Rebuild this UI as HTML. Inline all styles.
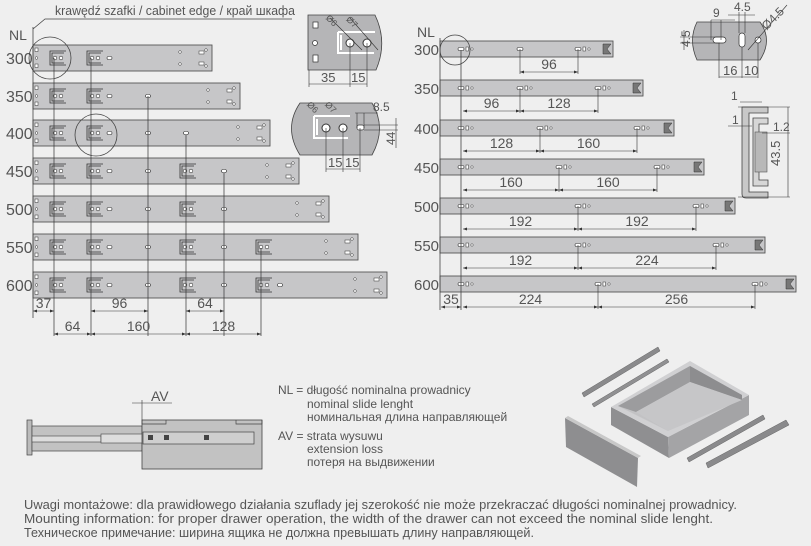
<!DOCTYPE html>
<html><head><meta charset="utf-8"><style>
html,body{margin:0;padding:0;background:#efefef;}
svg{display:block;}
text{font-family:"Liberation Sans Narrow","Liberation Sans",sans-serif;fill:#555;}
</style></head><body>
<svg id="s" width="811" height="546" viewBox="0 0 811 546" xmlns="http://www.w3.org/2000/svg">
<rect width="811" height="546" fill="#efefef"/>
<g id="g"></g>
<text x="55" y="15" font-size="13" textLength="240" lengthAdjust="spacingAndGlyphs">krawędź szafki / cabinet edge / край шкафа</text>
<polyline points="292,19 45,19 33,29" fill="none" stroke="#444" stroke-width="0.8"/>
<text x="9" y="40" font-size="14" fill="#555">NL</text>
<line x1="33" y1="27" x2="33" y2="318" stroke="#444" stroke-width="0.8"/>
<text x="417" y="37" font-size="14">NL</text>
<line x1="440" y1="38" x2="440" y2="310" stroke="#444" stroke-width="0.8"/>
<line x1="461" y1="50" x2="461" y2="310" stroke="#444" stroke-width="0.8"/>
<circle cx="455" cy="50" r="15" fill="none" stroke="#444" stroke-width="0.8"/>
<circle cx="50" cy="58" r="21" fill="none" stroke="#444" stroke-width="0.8"/>
<circle cx="96" cy="135" r="21" fill="none" stroke="#444" stroke-width="0.8"/>

<path d="M308,15 H375 Q388,42 376,70 H308 Z" fill="#b5b5b7" stroke="#444" stroke-width="0.8"/>
<rect x="313" y="22" width="5" height="6" fill="#fff" stroke="#333" stroke-width="0.7"/>
<circle cx="315" cy="43" r="2.5" fill="#fff" stroke="#333" stroke-width="0.7"/>
<rect x="313" y="55" width="5" height="7" fill="#fff" stroke="#333" stroke-width="0.7"/>
<path d="M338,32 H375 M338,32 V53 H374 M341,35 V50" fill="none" stroke="#fff" stroke-width="2"/>
<circle cx="350" cy="43" r="4" fill="#fff" stroke="#333"/><circle cx="367" cy="43" r="4" fill="#fff" stroke="#333"/>
<line x1="330" y1="18" x2="362" y2="50" stroke="#333" stroke-width="0.6"/><line x1="350" y1="18" x2="378" y2="50" stroke="#333" stroke-width="0.6"/>
<text x="325" y="25" font-size="9" transform="rotate(45 333 22)">Ø6</text>
<text x="346" y="25" font-size="9" transform="rotate(45 352 22)">Ø7</text>
<line x1="350" y1="43" x2="350" y2="87" stroke="#333" stroke-width="0.6"/><line x1="367" y1="43" x2="367" y2="87" stroke="#333" stroke-width="0.6"/>
<line x1="309" y1="70" x2="309" y2="87" stroke="#333" stroke-width="0.6"/>
<line x1="309" y1="84" x2="367" y2="84" stroke="#333" stroke-width="0.6"/>
<text x="321" y="82" font-size="13">35</text><text x="351" y="82" font-size="13">15</text>
<path d="M300,103 H372 Q387,128 372,155 H300 Q283,128 300,103 Z" fill="#b5b5b7" stroke="#444" stroke-width="0.8"/>
<path d="M314,116 H350 M314,116 V138 H348 M317,119 V135" fill="none" stroke="#fff" stroke-width="2"/>
<circle cx="326" cy="128" r="4" fill="#fff" stroke="#333"/><circle cx="343" cy="128" r="4" fill="#fff" stroke="#333"/>
<rect x="357" y="125" width="7" height="5" rx="2" fill="#fff" stroke="#333" stroke-width="0.7"/>
<text x="306" y="110" font-size="9" transform="rotate(45 312 108)">Ø6</text>
<text x="324" y="110" font-size="9" transform="rotate(45 330 108)">Ø7</text>
<line x1="326" y1="128" x2="326" y2="172" stroke="#333" stroke-width="0.6"/><line x1="343" y1="128" x2="343" y2="172" stroke="#333" stroke-width="0.6"/><line x1="360" y1="128" x2="360" y2="172" stroke="#333" stroke-width="0.6"/>
<line x1="326" y1="169" x2="360" y2="169" stroke="#333" stroke-width="0.6"/>
<text x="328" y="167" font-size="13">15</text><text x="345" y="167" font-size="13">15</text>
<line x1="355" y1="113" x2="378" y2="113" stroke="#333" stroke-width="0.6"/><line x1="357" y1="113" x2="357" y2="128" stroke="#333" stroke-width="0.6"/><line x1="364" y1="113" x2="364" y2="128" stroke="#333" stroke-width="0.6"/>
<text x="373" y="111" font-size="12">8.5</text>
<line x1="364" y1="125" x2="398" y2="125" stroke="#333" stroke-width="0.6"/><line x1="364" y1="130" x2="398" y2="130" stroke="#333" stroke-width="0.6"/>
<line x1="396" y1="118" x2="396" y2="148" stroke="#333" stroke-width="0.6"/>
<text x="395" y="145" font-size="12" transform="rotate(-90 395 145)">44</text>

<path d="M697,22 H760 Q773,40 760,60 H697 Q688,40 697,22 Z" fill="#b5b5b7" stroke="#444" stroke-width="0.8"/>
<rect x="713" y="37" width="13" height="6" rx="3" fill="#fff" stroke="#333" stroke-width="0.7"/>
<rect x="739" y="33" width="6" height="14" rx="3" fill="#fff" stroke="#333" stroke-width="0.7"/>
<circle cx="758" cy="40" r="3" fill="#fff" stroke="#333" stroke-width="0.7"/>
<line x1="680" y1="37" x2="720" y2="37" stroke="#333" stroke-width="0.6"/><line x1="680" y1="43" x2="720" y2="43" stroke="#333" stroke-width="0.6"/>
<line x1="684" y1="30" x2="684" y2="50" stroke="#333" stroke-width="0.6"/>
<text x="690" y="47" font-size="12" transform="rotate(-90 690 47)">4.5</text>
<line x1="711" y1="20" x2="735" y2="20" stroke="#333" stroke-width="0.6"/><line x1="711" y1="20" x2="711" y2="40" stroke="#333" stroke-width="0.6"/><line x1="721" y1="20" x2="721" y2="40" stroke="#333" stroke-width="0.6"/>
<text x="713" y="17" font-size="12">9</text>
<line x1="728" y1="15" x2="755" y2="15" stroke="#333" stroke-width="0.6"/><line x1="739" y1="12" x2="739" y2="33" stroke="#333" stroke-width="0.6"/><line x1="745" y1="12" x2="745" y2="33" stroke="#333" stroke-width="0.6"/>
<text x="734" y="11" font-size="12">4.5</text>
<line x1="748" y1="50" x2="787" y2="5" stroke="#333" stroke-width="0.6"/>
<text x="760" y="25" font-size="12" transform="rotate(-45 770 20)">Ø4.5</text>
<line x1="719" y1="43" x2="719" y2="78" stroke="#333" stroke-width="0.6"/><line x1="742" y1="47" x2="742" y2="78" stroke="#333" stroke-width="0.6"/><line x1="758" y1="43" x2="758" y2="78" stroke="#333" stroke-width="0.6"/>
<line x1="719" y1="77" x2="758" y2="77" stroke="#333" stroke-width="0.6"/>
<text x="723" y="75" font-size="13">16</text><text x="744" y="75" font-size="13">10</text>
<path d="M742,107 V194 Q742,198 746,198 H768 V192 H749 V113 H768 V107 Z" fill="#c8c8c8" stroke="#444" stroke-width="0.8"/>
<path d="M753,118 H768 V124 H759 V180 H768 V186 H753 Z" fill="#d6d6d6" stroke="#444" stroke-width="0.8"/>
<rect x="755" y="132" width="12" height="40" fill="#b8b8b8" stroke="#555" stroke-width="0.6"/>
<line x1="738" y1="107" x2="790" y2="107" stroke="#333" stroke-width="0.6"/><line x1="738" y1="197" x2="790" y2="197" stroke="#333" stroke-width="0.6"/>
<line x1="788" y1="107" x2="788" y2="197" stroke="#333" stroke-width="0.6"/>
<text x="780" y="166" font-size="13" transform="rotate(-90 780 166)">43.5</text>
<line x1="740" y1="102" x2="762" y2="102" stroke="#333" stroke-width="0.6"/><text x="731" y="100" font-size="12">1</text>
<line x1="728" y1="126" x2="752" y2="126" stroke="#333" stroke-width="0.6"/><text x="732" y="124" font-size="12">1</text>
<line x1="762" y1="133" x2="790" y2="133" stroke="#333" stroke-width="0.6"/><text x="773" y="131" font-size="12">1.2</text>

<rect x="27" y="420" width="5" height="35" fill="#bbb" stroke="#444" stroke-width="0.7"/>
<rect x="32" y="426" width="110" height="25" fill="#c2c2c2" stroke="#444" stroke-width="0.7"/>
<rect x="32" y="436" width="69" height="6" fill="#ddd" stroke="#444" stroke-width="0.6"/>
<rect x="101" y="434" width="42" height="9" fill="#ddd" stroke="#444" stroke-width="0.6"/>
<rect x="142" y="420" width="120" height="49" fill="#c2c2c2" stroke="#444" stroke-width="0.8"/>
<path d="M142,420 V424 H166 V420 M236,420 V424 H262 V420" fill="none" stroke="#444" stroke-width="0.7"/>
<rect x="143" y="432" width="111" height="12" fill="#cfcfcf" stroke="#444" stroke-width="0.7"/>
<rect x="148" y="435" width="5" height="5" fill="#444"/><rect x="164" y="435" width="5" height="5" fill="#444"/><rect x="204" y="435" width="5" height="5" fill="#444"/>
<line x1="142" y1="400" x2="142" y2="420" stroke="#333" stroke-width="0.6"/>
<line x1="132" y1="403" x2="172" y2="403" stroke="#333" stroke-width="0.6"/>
<text x="151" y="401" font-size="14">AV</text>

<g font-size="12">
<text x="278" y="394">NL = długość nominalna prowadnicy</text>
<text x="307" y="408">nominal slide lenght</text>
<text x="307" y="421">номинальная длина направляющей</text>
<text x="278" y="440">AV = strata wysuwu</text>
<text x="307" y="453">extension loss</text>
<text x="307" y="466">потеря на выдвижении</text>
</g>
<!-- drawer -->
<polygon points="565,418 638,458 637,487 566,447" fill="#8e8e90"/>
<polygon points="565,418 568,416 641,456 638,458" fill="#c8c8c8"/>
<polygon points="611,407 668,437 669,458 611,425" fill="#8f8f91"/>
<polygon points="668,437 749,395 749,415 669,458" fill="#a4a4a6"/>
<polygon points="611,407 690,361 749,395 668,437" fill="#d0d0d2"/>
<polygon points="618,406 690,366 742,395 668,431" fill="#c2c2c4"/>
<polygon points="618,406 690,366 690,382 636,412" fill="#9c9c9e"/>
<polygon points="690,366 742,395 742,400 690,382" fill="#8d8d8f"/>
<polygon points="636,412 690,382 742,400 668,431" fill="#c6c6c8"/>
<polygon points="582,393 658,347 660,351 584,397" fill="#8a8a8c" stroke="#666" stroke-width="0.5"/>
<polygon points="592,404 667,359 669,362 594,407" fill="#909092" stroke="#666" stroke-width="0.5"/>
<polygon points="687,458 763,415 765,419 689,462" fill="#8a8a8c" stroke="#666" stroke-width="0.5"/>
<polygon points="706,463 786,420 789,425 708,468" fill="#8a8a8c" stroke="#666" stroke-width="0.5"/>
<g font-size="12.5">
<text x="24" y="509" textLength="713" lengthAdjust="spacingAndGlyphs">Uwagi montażowe: dla prawidłowego działania szuflady jej szerokość nie może przekraczać długości nominalnej prowadnicy.</text>
<text x="24" y="523" textLength="689" lengthAdjust="spacingAndGlyphs">Mounting information: for proper drawer operation, the width of the drawer can not exceed the nominal slide lenght.</text>
<text x="24" y="537" textLength="510" lengthAdjust="spacingAndGlyphs">Техническое примечание: ширина ящика не должна превышать длину направляющей.</text>
</g>
</svg>
<script>
var NS="http://www.w3.org/2000/svg",g=document.getElementById('g');
function el(t,a,txt){var e=document.createElementNS(NS,t);for(var k in a)e.setAttribute(k,a[k]);if(txt)e.textContent=txt;g.appendChild(e);return e;}
function ln(x1,y1,x2,y2,w){el('line',{x1:x1,y1:y1,x2:x2,y2:y2,stroke:'#333','stroke-width':w||0.7});}
function dim(x1,x2,y,t){ln(x1,y,x2,y,0.6);el('polygon',{points:(x1)+','+y+' '+(x1+4)+','+(y-1.5)+' '+(x1+4)+','+(y+1.5),fill:'#333'});el('polygon',{points:(x2)+','+y+' '+(x2-4)+','+(y-1.5)+' '+(x2-4)+','+(y+1.5),fill:'#333'});el('text',{x:(x1+x2)/2,y:y-3,'font-size':14,'text-anchor':'middle'},t);}
var names=['300','350','400','450','500','550','600'];
var LT=[45,83,120,158,196,234,272],LE=[212,240,270,299,329,358,387];
var br={0:[50,87],1:[50,87],2:[50,87],3:[50,87,180],4:[50,87,180],5:[50,87,180,256],6:[50,87,180,256]};
var ovals={1:[148],2:[148,186],3:[148,224],4:[148,224],5:[148,224],6:[148,224,280]};
for(var i=0;i<7;i++){var t=LT[i],h=26,c=t+13;
 el('text',{x:6,y:c+6,'font-size':16},names[i]);
 el('rect',{x:33,y:t,width:LE[i]-33,height:h,fill:'#c6c6c8',stroke:'#555','stroke-width':0.9});
 el('rect',{x:35,y:t+3,width:3,height:3.5,fill:'#fff',stroke:'#333','stroke-width':0.5});
 el('rect',{x:35,y:t+19,width:3,height:3.5,fill:'#fff',stroke:'#333','stroke-width':0.5});
 el('circle',{cx:36.5,cy:c,r:1.3,fill:'#fff',stroke:'#333','stroke-width':0.5});
 br[i].forEach(function(x){el('path',{d:'M'+(x+16)+','+(c-7)+' H'+x+' V'+(c+7)+' H'+(x+16)+' M'+(x+14)+','+(c-5)+' H'+(x+2)+' V'+(c+5)+' H'+(x+14),fill:'none',stroke:'#333','stroke-width':0.8});
  el('circle',{cx:x+5,cy:c,r:1.8,fill:'#fff',stroke:'#333','stroke-width':0.6});el('circle',{cx:x+11,cy:c,r:1.8,fill:'#fff',stroke:'#333','stroke-width':0.6});});
 el('rect',{x:107,y:c-1.5,width:5,height:3,rx:1.5,fill:'#fff',stroke:'#333','stroke-width':0.6});
 (ovals[i]||[]).forEach(function(x){el('rect',{x:x-2.5,y:c-1.5,width:5,height:3,rx:1.5,fill:'#fff',stroke:'#333','stroke-width':0.6});});
 var e=LE[i];el('circle',{cx:e-32,cy:c-6,r:1.3,fill:'#fff',stroke:'#333','stroke-width':0.5});el('circle',{cx:e-32,cy:c+6,r:1.3,fill:'#fff',stroke:'#333','stroke-width':0.5});
 el('rect',{x:e-13,y:c-7,width:5,height:3,fill:'#fff',stroke:'#333','stroke-width':0.5});el('rect',{x:e-13,y:c+4,width:5,height:3,fill:'#fff',stroke:'#333','stroke-width':0.5});
 el('circle',{cx:e-6,cy:c-8,r:1.3,fill:'#fff',stroke:'#333','stroke-width':0.5});el('circle',{cx:e-6,cy:c+8,r:1.3,fill:'#fff',stroke:'#333','stroke-width':0.5});
}
[[54,58],[91,58],[148,96],[186,135],[224,173],[261,248]].forEach(function(v){ln(v[0],v[1],v[0],336,0.7);});
dim(33,54,311,'37');dim(91,148,311,'96');dim(186,224,311,'64');
dim(54,91,334,'64');dim(91,186,334,'160');dim(186,261,334,'128');
var RT=[41,80,120,159,198,237,276],RE=[613,643,674,704,735,765,796];
var holes={0:[],1:[520],2:[540],3:[559],4:[578],5:[578],6:[598]};
var ends={0:[520,578],1:[598],2:[637],3:[657],4:[696],5:[716],6:[755]};
var dims=[[[520,578,'96']],[[463,520,'96'],[520,598,'128']],[[463,540,'128'],[540,637,'160']],[[463,559,'160'],[559,657,'160']],[[463,578,'192'],[578,696,'192']],[[463,578,'192'],[578,716,'224']],[[441,461,'35'],[463,598,'224'],[598,755,'256']]];
for(var i=0;i<7;i++){var t=RT[i],c=t+8,e=RE[i];
 el('text',{x:414,y:c+6,'font-size':15},names[i]);
 el('rect',{x:440,y:t,width:e-440,height:16,fill:'#c6c6c8',stroke:'#555','stroke-width':0.9});
 var hs=[461].concat(i==0?[520,578]:holes[i].concat(ends[i]));
 hs.forEach(function(x,k){el('rect',{x:x-3,y:c-1.5,width:6,height:3,rx:1.5,fill:'#fff',stroke:'#333','stroke-width':0.6});
  if(!(i==0&&k==1)){el('rect',{x:x+5,y:c-2,width:2.5,height:4,fill:'#fff',stroke:'#333','stroke-width':0.5});el('circle',{cx:x+11,cy:c,r:1.2,fill:'#fff',stroke:'#333','stroke-width':0.5});}
  if(x>461)ln(x,c,x,t+33,0.6);});
 el('path',{d:'M'+(e-2)+','+(c-5)+' H'+(e-10)+' V'+(c+5)+' H'+(e-2)+' L'+(e-6)+','+c+' Z',fill:'#777',stroke:'#333','stroke-width':0.5});
 dims[i].forEach(function(d){dim(d[0],d[1],t+31,d[2]);});
}
</script>
</body></html>
